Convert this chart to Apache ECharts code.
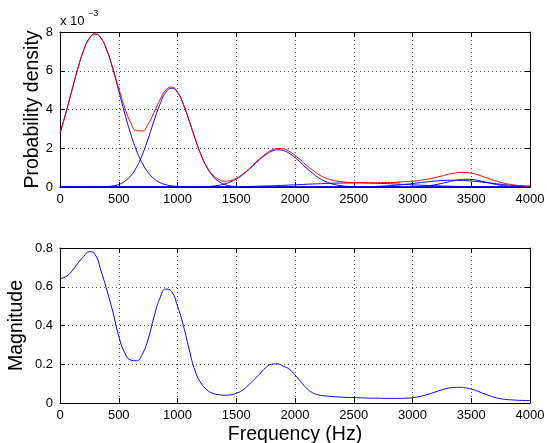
<!DOCTYPE html>
<html><head><meta charset="utf-8">
<script src="https://cdn.jsdelivr.net/npm/echarts@6/dist/echarts.min.js"></script>
<style>html,body{margin:0;padding:0;background:#fff}#c{width:547px;height:443px}</style>
</head><body><div id="c"></div>
<script>
// Frequency samples (Hz)
const freqHz = [
0,50,100,150,200,250,300,350,400,450,
500,550,600,650,700,750,800,850,900,950,
1000,1050,1100,1150,1200,1250,1300,1350,1400,1450,
1500,1550,1600,1650,1700,1750,1800,1850,1900,1950,
2000,2050,2100,2150,2200,2250,2300,2350,2400,2450,
2500,2550,2600,2650,2700,2750,2800,2850,2900,2950,
3000,3050,3100,3150,3200,3250,3300,3350,3400,3450,
3500,3550,3600,3650,3700,3750,3800,3850,3900,3950,
4000];

// Mixture components (probability density, x 10^-3)
const comp1 = [
2.77,3.82,4.96,6.08,7.03,7.67,7.90,7.67,7.03,6.08,
4.96,3.82,2.77,1.90,1.23,0.75,0.43,0.23,0.12,0.058,
0.026,0.011,0.005,0.002,0,0,0,0,0,0,
0,0,0,0,0,0,0,0,0,0,
0,0,0,0,0,0,0,0,0,0,
0,0,0,0,0,0,0,0,0,0,
0,0,0,0,0,0,0,0,0,0,
0,0,0,0,0,0,0,0,0,0,
0];
const comp2 = [
0,0,0,0,0,0.001,0.003,0.008,0.022,0.057,
0.13,0.29,0.57,1.01,1.66,2.49,3.41,4.26,4.88,5.10,
4.88,4.26,3.41,2.49,1.66,1.01,0.57,0.29,0.13,0.057,
0.022,0.008,0.003,0.001,0,0,0,0,0,0,
0,0,0,0,0,0,0,0,0,0,
0,0,0,0,0,0,0,0,0,0,
0,0,0,0,0,0,0,0,0,0,
0,0,0,0,0,0,0,0,0,0,
0];
const comp3 = [
0,0,0,0,0,0,0,0,0,0,
0,0,0,0,0,0,0,0,0,0,
0,0,0.002,0.005,0.011,0.023,0.046,0.087,0.155,0.26,
0.41,0.61,0.86,1.14,1.42,1.66,1.84,1.92,1.88,1.74,
1.52,1.25,0.97,0.71,0.48,0.31,0.19,0.11,0.06,0.03,
0.015,0.007,0.003,0.001,0,0,0,0,0,0,
0,0,0,0,0,0,0,0,0,0,
0,0,0,0,0,0,0,0,0,0,
0];
const comp4 = [
0,0,0,0,0,0,0,0,0,0,
0,0,0,0,0,0,0,0,0,0,
0.001,0.001,0.002,0.002,0.003,0.004,0.006,0.008,0.011,0.014,
0.018,0.023,0.028,0.035,0.043,0.052,0.063,0.074,0.086,0.100,
0.113,0.127,0.141,0.155,0.168,0.180,0.190,0.199,0.205,0.209,
0.210,0.209,0.205,0.199,0.190,0.180,0.168,0.155,0.141,0.127,
0.113,0.100,0.086,0.074,0.063,0.052,0.043,0.035,0.028,0.023,
0.018,0.014,0.011,0.008,0.006,0.004,0.003,0.002,0.002,0.001,
0.001];
const comp5 = [
0,0,0,0,0,0,0,0,0,0,
0,0,0,0,0,0,0,0,0,0,
0,0,0,0,0,0,0,0,0,0,
0,0,0,0,0,0,0,0,0,0,
0,0,0,0,0,0,0,0,0,0,
0,0,0,0,0,0,0,0.001,0.002,0.004,
0.010,0.022,0.043,0.076,0.124,0.186,0.257,0.325,0.376,0.399,
0.389,0.348,0.285,0.214,0.148,0.093,0.054,0.029,0.014,0.006,
0.003];
const comp6 = [
0,0,0,0,0,0,0,0,0,0,
0,0,0,0,0,0,0,0,0,0,
0,0,0,0,0,0,0,0,0,0,
0,0,0,0,0,0,0,0,0,0,
0,0,0,0,0,0,0.001,0.001,0.002,0.004,
0.006,0.010,0.015,0.023,0.033,0.047,0.065,0.087,0.114,0.144,
0.177,0.212,0.247,0.280,0.309,0.331,0.345,0.350,0.345,0.331,
0.309,0.280,0.247,0.212,0.177,0.144,0.114,0.087,0.065,0.047,
0.033];
// Total mixture density (red), x 10^-3
const mixture = [
2.77,3.82,4.96,6.08,7.03,7.67,7.90,7.68,7.05,6.14,
5.09,4.11,3.34,2.91,2.89,3.24,3.84,4.49,5.00,5.16,
4.91,4.27,3.42,2.50,1.67,1.04,0.62,0.39,0.30,0.33,
0.45,0.64,0.89,1.18,1.46,1.71,1.90,1.99,1.97,1.84,
1.63,1.38,1.11,0.87,0.65,0.49,0.38,0.31,0.27,0.24,
0.23,0.23,0.22,0.22,0.22,0.23,0.23,0.24,0.26,0.28,
0.30,0.33,0.38,0.43,0.50,0.57,0.65,0.71,0.75,0.75,
0.72,0.64,0.54,0.43,0.33,0.24,0.17,0.12,0.08,0.05,
0.04];
// Magnitude response
const magnitude = [
0.643,0.652,0.68,0.72,0.755,0.781,0.765,0.68,0.58,0.47,
0.345,0.26,0.222,0.218,0.252,0.33,0.445,0.54,0.588,0.575,
0.50,0.40,0.275,0.165,0.103,0.068,0.05,0.043,0.04,0.042,
0.05,0.065,0.09,0.12,0.15,0.182,0.2,0.202,0.19,0.175,
0.145,0.11,0.075,0.053,0.042,0.037,0.034,0.032,0.03,0.029,
0.028,0.027,0.026,0.025,0.025,0.024,0.024,0.024,0.024,0.025,
0.027,0.032,0.039,0.048,0.058,0.068,0.076,0.08,0.081,0.078,
0.072,0.062,0.05,0.039,0.029,0.022,0.018,0.016,0.014,0.013,
0.012];

const FONT = '"Liberation Sans", Arial, Helvetica, sans-serif';
const pairs = ys => freqHz.map((f, i) => [f, ys[i]]);
const black = '#000';
const split = {show: true, lineStyle: {color: '#555', width: 1, type: [1, 3]}};
const tick = {show: true, inside: true, length: 5, lineStyle: {color: black, width: 1}};
const line = {show: true, onZero: false, lineStyle: {color: black, width: 1}};
const lbl = {color: black, fontSize: 13, fontFamily: FONT, margin: 7, formatter: v => String(v)};

function xAxes(g, withName) {
  return [
    {type: 'value', gridIndex: g, position: 'bottom', min: 0, max: 4000, interval: 500,
     axisLine: line, axisTick: tick, axisLabel: Object.assign({}, lbl, {margin: 6}), splitLine: split,
     name: withName ? 'Frequency (Hz)' : '', nameLocation: 'middle', nameGap: 22, nameMoveOverlap: false,
     nameTextStyle: {color: black, fontSize: 19.5, fontFamily: FONT}},
    {type: 'value', gridIndex: g, position: 'top', min: 0, max: 4000, interval: 500,
     axisLine: line, axisTick: tick, axisLabel: {show: false}, splitLine: {show: false}}
  ];
}
function yAxes(g, max, interval, name, gap) {
  return [
    {type: 'value', gridIndex: g, position: 'left', min: 0, max: max, interval: interval,
     axisLine: line, axisTick: tick, axisLabel: lbl, splitLine: split,
     name: name, nameLocation: 'middle', nameGap: gap, nameMoveOverlap: false,
     nameTextStyle: {color: black, fontSize: 19.5, fontFamily: FONT}},
    {type: 'value', gridIndex: g, position: 'right', min: 0, max: max, interval: interval,
     axisLine: line, axisTick: tick, axisLabel: {show: false}, splitLine: {show: false}}
  ];
}
const mk = (data, color, xi, yi) => ({
  type: 'line', data: pairs(data), xAxisIndex: xi, yAxisIndex: yi,
  showSymbol: false, smooth: 0.5, lineStyle: {color: color, width: 1}, itemStyle: {color: color},
  silent: true
});

const option = {
  animation: false,
  backgroundColor: '#fff',
  grid: [
    {left: 60, top: 32, width: 470, height: 155, outerBoundsMode: 'none', containLabel: false},
    {left: 60, top: 248, width: 470, height: 155, outerBoundsMode: 'none', containLabel: false}
  ],
  xAxis: [...xAxes(0, false), ...xAxes(1, true)],
  yAxis: [...yAxes(0, 8, 2, 'Probability density', 17), ...yAxes(1, 0.8, 0.2, 'Magnitude', 33)],
  series: [
    mk(comp1, '#0000ff', 0, 0),
    mk(comp2, '#0000ff', 0, 0),
    mk(comp3, '#0000ff', 0, 0),
    mk(comp4, '#0000ff', 0, 0),
    mk(comp5, '#0000ff', 0, 0),
    mk(comp6, '#0000ff', 0, 0),
    mk(mixture, '#ff0000', 0, 0),
    mk(magnitude, '#0000ff', 2, 2)
  ],
  graphic: [
    {type: 'text', left: 60, top: 15, style: {text: 'x 10', fontSize: 13, fontFamily: FONT, fill: black}},
    {type: 'text', left: 88, top: 9, style: {text: '\u22123', fontSize: 9, fontFamily: FONT, fill: black}}
  ]
};
const chart = echarts.init(document.getElementById('c'));
chart.setOption(option);
</script>
</body></html>
